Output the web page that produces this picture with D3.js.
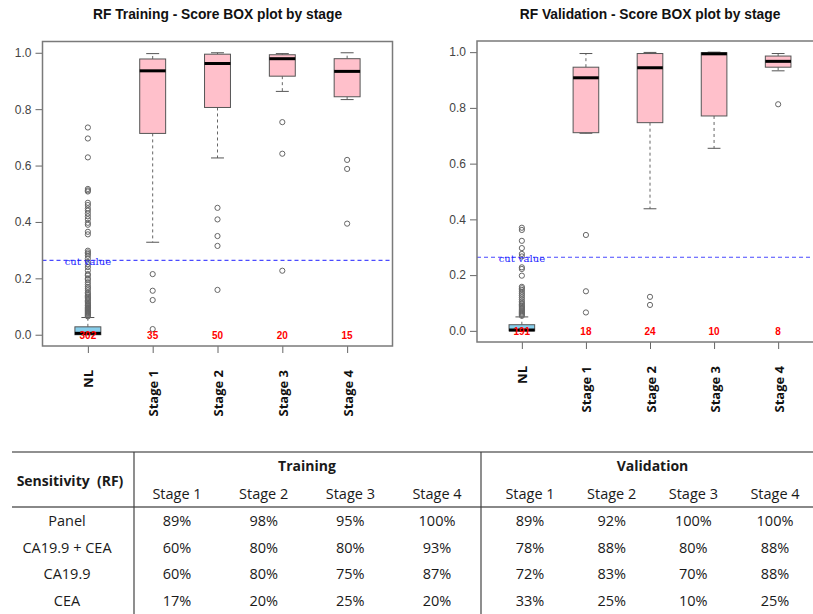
<!DOCTYPE html>
<html>
<head>
<meta charset="utf-8">
<script src="https://cdn.jsdelivr.net/npm/d3@7"></script>
<style>
  html, body { margin: 0; padding: 0; background: #fff; }
  svg { display: block; }
</style>
</head>
<body>
<svg id="chart" width="813" height="614"></svg>
<script>
// ---------------- DATA ----------------
const stages = ["NL", "Stage 1", "Stage 2", "Stage 3", "Stage 4"];
const cutValue = 0.264;
const yTicks = [0, 0.2, 0.4, 0.6, 0.8, 1.0];

// Training
const trainWhiskerLow  = [0.000, 0.328, 0.627, 0.863, 0.834];
const trainQ1          = [0.000, 0.714, 0.806, 0.917, 0.844];
const trainMedian      = [0.005, 0.936, 0.962, 0.979, 0.934];
const trainQ3          = [0.028, 0.978, 0.995, 0.993, 0.979];
const trainWhiskerHigh = [0.061, 0.997, 1.000, 0.997, 1.000];
const trainCounts      = [302, 35, 50, 20, 15];
const trainOutliersNL  = [0.735, 0.696, 0.629, 0.517, 0.512, 0.508, 0.468, 0.460, 0.448, 0.440,
  0.430, 0.420, 0.410, 0.397, 0.390, 0.365, 0.356, 0.298, 0.292, 0.287, 0.280, 0.270, 0.258,
  0.250, 0.240, 0.228, 0.215, 0.210, 0.200, 0.195, 0.186, 0.178, 0.170, 0.165, 0.158, 0.150,
  0.145, 0.140, 0.135, 0.131, 0.127, 0.122, 0.118, 0.113, 0.109, 0.105, 0.102, 0.098, 0.095,
  0.092, 0.089, 0.086, 0.083, 0.080, 0.077, 0.074, 0.071, 0.068, 0.065];
const trainOutliersS1  = [0.215, 0.156, 0.123, 0.020];
const trainOutliersS2  = [0.450, 0.409, 0.350, 0.315, 0.159];
const trainOutliersS3  = [0.754, 0.642, 0.227];
const trainOutliersS4  = [0.620, 0.588, 0.394];

// Validation
const valWhiskerLow  = [0.000, 0.709, 0.438, 0.655, 0.933];
const valQ1          = [0.000, 0.711, 0.747, 0.771, 0.946];
const valMedian      = [0.003, 0.908, 0.944, 0.994, 0.967];
const valQ3          = [0.022, 0.946, 0.995, 0.998, 0.986];
const valWhiskerHigh = [0.050, 0.995, 0.999, 1.000, 0.995];
const valCounts      = [191, 18, 24, 10, 8];
const valOutliersNL  = [0.370, 0.362, 0.323, 0.297, 0.276, 0.267, 0.228, 0.222, 0.198, 0.158,
  0.153, 0.147, 0.140, 0.133, 0.127, 0.120, 0.113, 0.106, 0.100, 0.095, 0.090, 0.086, 0.082,
  0.078, 0.074, 0.070, 0.066, 0.062, 0.058, 0.054];
const valOutliersS1  = [0.344, 0.142, 0.066];
const valOutliersS2  = [0.122, 0.093];
const valOutliersS3  = [];
const valOutliersS4  = [0.813];

// Table
const tableGroups = ["Training", "Validation"];
const tableStages = ["Stage 1", "Stage 2", "Stage 3", "Stage 4"];
const tableRowLabels = ["Panel", "CA19.9 + CEA", "CA19.9", "CEA"];
const trainingSensitivity = [
  [89, 98, 95, 100],
  [60, 80, 80, 93],
  [60, 80, 75, 87],
  [17, 20, 25, 20]
];
const validationSensitivity = [
  [89, 92, 100, 100],
  [78, 88, 80, 88],
  [72, 83, 70, 88],
  [33, 25, 10, 25]
];

// ---------------- DRAW ----------------
const svg = d3.select("#chart");

function drawPanel(opts) {
  const { title, left, right, top, bottom, wl, q1, med, q3, wh, outliers, counts } = opts;
  const g = svg.append("g");

  const x = d3.scaleLinear().domain([0.3, stages.length + 0.7]).range([left, right]);
  const y = d3.scaleLinear().domain([-0.04, 1.04]).range([bottom, top]);
  const halfW = x(1.2) - x(1);

  // title
  g.append("text")
    .attr("x", (left + right) / 2).attr("y", 19)
    .attr("text-anchor", "middle")
    .attr("font-family", "Liberation Sans, Arial, sans-serif")
    .attr("font-weight", "bold").attr("font-size", 13.8)
    .attr("fill", "#111")
    .text(title);

  // y axis
  const yAxis = d3.axisLeft(y).tickValues(yTicks).tickFormat(d3.format(".1f")).tickSize(7).tickPadding(4);
  const ya = g.append("g").attr("transform", `translate(${left},0)`).call(yAxis);
  ya.select(".domain").remove();
  ya.selectAll(".tick line").attr("stroke", "#666");
  ya.selectAll(".tick text").attr("font-family", "Liberation Sans, Arial, sans-serif")
    .attr("font-size", 12).attr("fill", "#444");

  // x axis
  const xAxis = d3.axisBottom(x).tickValues(stages.map((d, i) => i + 1)).tickFormat(i => stages[i - 1]).tickSize(7).tickPadding(17);
  const xa = g.append("g").attr("transform", `translate(0,${bottom})`).call(xAxis);
  xa.select(".domain").remove();
  xa.selectAll(".tick line").attr("stroke", "#666");
  xa.selectAll(".tick text")
    .attr("font-family", "Open Sans, Noto Sans, sans-serif")
    .attr("font-weight", "bold").attr("font-size", 13).attr("fill", "#111")
    .attr("text-anchor", "end")
    .attr("dy", null)
    .attr("transform", "rotate(-90)")
    .attr("x", -24).attr("y", 0).attr("dominant-baseline", "central");

  // cut line
  g.append("line")
    .attr("x1", left).attr("x2", right)
    .attr("y1", y(cutValue)).attr("y2", y(cutValue))
    .attr("stroke", "#4a4aff").attr("stroke-width", 1.2).attr("stroke-dasharray", "4,3");

  // boxes
  stages.forEach((s, i) => {
    const cx = x(i + 1);
    const fill = i === 0 ? "#87CEEB" : "#FFC0CB";
    g.append("line").attr("x1", cx).attr("x2", cx).attr("y1", y(q3[i])).attr("y2", y(wh[i]))
      .attr("stroke", "#666").attr("stroke-dasharray", "3,3").attr("stroke-width", 1);
    g.append("line").attr("x1", cx).attr("x2", cx).attr("y1", y(q1[i])).attr("y2", y(wl[i]))
      .attr("stroke", "#666").attr("stroke-dasharray", "3,3").attr("stroke-width", 1);
    [wl[i], wh[i]].forEach(v => {
      g.append("line").attr("x1", cx - halfW / 2).attr("x2", cx + halfW / 2)
        .attr("y1", y(v)).attr("y2", y(v)).attr("stroke", "#555").attr("stroke-width", 1);
    });
    g.append("rect")
      .attr("x", cx - halfW).attr("width", 2 * halfW)
      .attr("y", y(q3[i])).attr("height", Math.max(0.5, y(q1[i]) - y(q3[i])))
      .attr("fill", fill).attr("stroke", "#555").attr("stroke-width", 1);
    g.append("line").attr("x1", cx - halfW).attr("x2", cx + halfW)
      .attr("y1", y(med[i])).attr("y2", y(med[i]))
      .attr("stroke", "#000").attr("stroke-width", 3);
    g.selectAll(null).data(outliers[i]).enter().append("circle")
      .attr("cx", cx).attr("cy", d => y(d)).attr("r", 2.6)
      .attr("fill", "none").attr("stroke", "#666").attr("stroke-width", 1);
    g.append("text").attr("x", cx).attr("y", y(0)).attr("dy", "0.4em")
      .attr("text-anchor", "middle")
      .attr("font-family", "Liberation Sans Narrow, Liberation Sans, Arial, sans-serif")
      .attr("font-weight", "bold").attr("font-size", 10).attr("fill", "#ff0000")
      .text(counts[i]);
  });

  // cut value text
  g.append("text").attr("x", x(1)).attr("y", y(cutValue)).attr("dy", "0.45em")
    .attr("text-anchor", "middle")
    .attr("font-family", "DejaVu Serif, Liberation Serif, serif")
    .attr("font-size", 10).attr("fill", "#2222ff")
    .text("cut value");

  // frame
  g.append("rect").attr("x", left).attr("y", top)
    .attr("width", right - left).attr("height", bottom - top)
    .attr("fill", "none").attr("stroke", "#7a7a7a").attr("stroke-width", 1.5);
}

drawPanel({
  title: "RF Training - Score BOX plot by stage",
  left: 42.5, right: 392.5, top: 41.5, bottom: 346,
  wl: trainWhiskerLow, q1: trainQ1, med: trainMedian, q3: trainQ3, wh: trainWhiskerHigh,
  outliers: [trainOutliersNL, trainOutliersS1, trainOutliersS2, trainOutliersS3, trainOutliersS4],
  counts: trainCounts
});
drawPanel({
  title: "RF Validation - Score BOX plot by stage",
  left: 477, right: 823, top: 41, bottom: 342,
  wl: valWhiskerLow, q1: valQ1, med: valMedian, q3: valQ3, wh: valWhiskerHigh,
  outliers: [valOutliersNL, valOutliersS1, valOutliersS2, valOutliersS3, valOutliersS4],
  counts: valCounts
});

// ---------------- TABLE ----------------
const t = svg.append("g")
  .attr("font-family", "Open Sans, Noto Sans, sans-serif")
  .attr("fill", "#1a1a1a");

const colTrain = d3.scalePoint().domain(tableStages).range([177, 437]);
const colVal = d3.scalePoint().domain(tableStages).range([530, 775]);
const rowY = d3.scalePoint().domain(tableRowLabels).range([521, 601]);
const groupScales = [colTrain, colVal];
const groupData = [trainingSensitivity, validationSensitivity];

t.append("line").attr("x1", 12).attr("x2", 813).attr("y1", 452).attr("y2", 452)
  .attr("stroke", "#222").attr("stroke-width", 1.2);
t.append("line").attr("x1", 12).attr("x2", 813).attr("y1", 507).attr("y2", 507)
  .attr("stroke", "#888").attr("stroke-width", 2);
[134, 481].forEach(vx => {
  t.append("line").attr("x1", vx).attr("x2", vx).attr("y1", 452).attr("y2", 614)
    .attr("stroke", "#444").attr("stroke-width", 1.2);
});

t.append("text").attr("x", 70).attr("y", 481).attr("dy", "0.35em")
  .attr("text-anchor", "middle").attr("font-weight", "bold").attr("font-size", 14)
  .attr("xml:space", "preserve").style("white-space", "pre")
  .text("Sensitivity  (RF)");

tableGroups.forEach((grp, gi) => {
  const sc = groupScales[gi];
  const [a, b] = sc.range();
  t.append("text").attr("x", (a + b) / 2).attr("y", 466).attr("dy", "0.35em")
    .attr("text-anchor", "middle").attr("font-weight", "bold").attr("font-size", 14)
    .text(grp);
  tableStages.forEach(st => {
    t.append("text").attr("x", sc(st)).attr("y", 494).attr("dy", "0.35em")
      .attr("text-anchor", "middle").attr("font-size", 14.5).text(st);
  });
  tableRowLabels.forEach((rl, ri) => {
    tableStages.forEach((st, si) => {
      t.append("text").attr("x", sc(st)).attr("y", rowY(rl)).attr("dy", "0.35em")
        .attr("text-anchor", "middle").attr("font-size", 14.5)
        .text(groupData[gi][ri][si] + "%");
    });
  });
});

tableRowLabels.forEach(rl => {
  t.append("text").attr("x", 67).attr("y", rowY(rl)).attr("dy", "0.35em")
    .attr("text-anchor", "middle").attr("font-size", 14.5)
    .attr("xml:space", "preserve").style("white-space", "pre")
    .text(rl);
});
</script>
</body>
</html>
